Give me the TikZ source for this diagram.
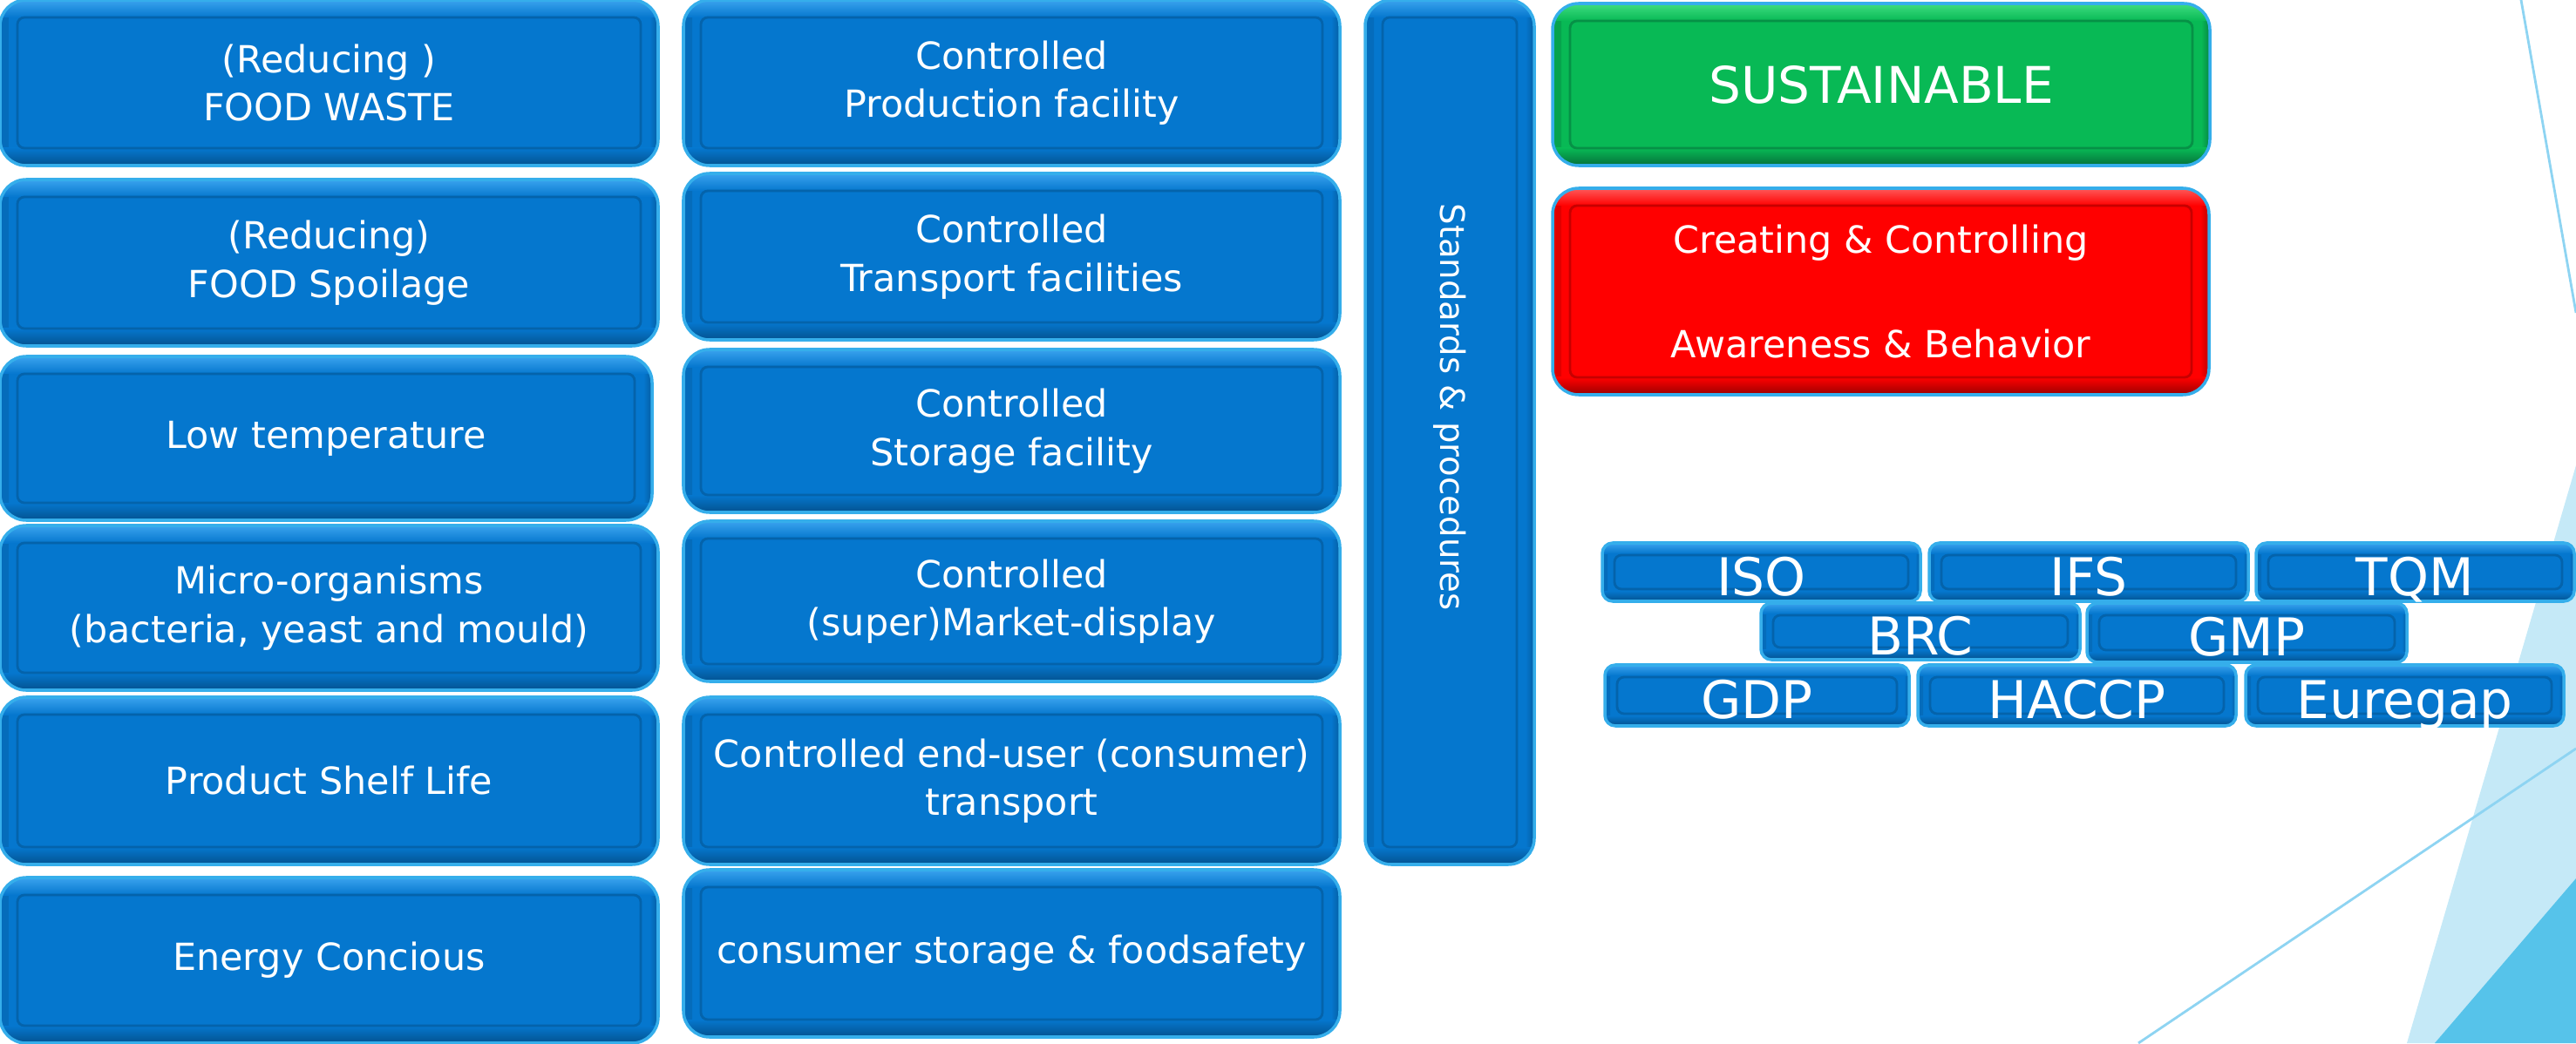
\documentclass[tikz,border=0pt]{standalone}
\usepackage{fontspec}
\setmainfont{DejaVu Sans}

\definecolor{tileblue}{HTML}{0577CE}
\definecolor{tilebluehi}{HTML}{3AA3EE}
\definecolor{tilebluedk}{HTML}{04528F}
\definecolor{tilerim}{HTML}{35AEEB}
\definecolor{tilegreen}{HTML}{08B955}
\definecolor{tilegreenhi}{HTML}{3FDD80}
\definecolor{tilegreendk}{HTML}{05703A}
\definecolor{tilered}{HTML}{FF0000}
\definecolor{tileredhi}{HTML}{FF5A5A}
\definecolor{tilereddk}{HTML}{9A0000}
\definecolor{decoline}{HTML}{8ED4F2}
\definecolor{decolight}{HTML}{C5E9F7}
\definecolor{decodark}{HTML}{56C3EA}

\newcommand{\tiletext}{\fontsize{12.2}{15.8}\selectfont}
\newcommand{\badgetext}{\fontsize{17}{20}\selectfont}
\newcommand{\sustext}{\fontsize{16.5}{20}\selectfont}
\newcommand{\stdtext}{\fontsize{11}{13}\selectfont}

\tikzset{
  tile inset/.store in=\tileinset, tile inset=0.2cm,
  tile band/.store in=\tileband, tile band=0.2cm,
  tile/.style n args={4}{draw=#4, fill=#1, line width=1pt, rounded corners=0.3cm,
    text=white, align=center, inner sep=0pt,
    path picture={
      \fill[sharp corners, left color=#3!30!#1, right color=#1]
        (path picture bounding box.north west) rectangle ([xshift=0.5*\tileband]path picture bounding box.south west);
      \fill[sharp corners, left color=#1, right color=#3!70!#1]
        ([xshift=-0.5*\tileband]path picture bounding box.north east) rectangle (path picture bounding box.south east);
      \fill[sharp corners, top color=#2, bottom color=#1]
        (path picture bounding box.north west) rectangle ([yshift=-\tileband]path picture bounding box.north east);
      \fill[sharp corners, top color=#1, bottom color=#3]
        ([yshift=\tileband]path picture bounding box.south west) rectangle (path picture bounding box.south east);
      \draw[#3!55!#1, line width=0.8pt, rounded corners=0.08cm]
        ([shift={(\tileinset,\tileinset)}]path picture bounding box.south west) rectangle
        ([shift={(-\tileinset,-\tileinset)}]path picture bounding box.north east);
    }},
  bluetile/.style={tile={tileblue}{tilebluehi}{tilebluedk}{tilerim}},
  greentile/.style={tile={tilegreen}{tilegreenhi}{tilegreendk}{tilerim}},
  redtile/.style={tile={tilered}{tileredhi}{tilereddk}{tilerim}},
  redline/.style={text=white, font=\tiletext, inner sep=0pt},
}

\begin{document}
\begin{tikzpicture}
	\useasboundingbox (0,0) rectangle (29.55,11.97);
	\tikzstyle{cell} = [bluetile, minimum width=7.55cm, minimum height=1.9cm, font=\tiletext]
	\tikzstyle{badge} = [bluetile, tile inset=0.14cm, tile band=0.12cm, rounded corners=0.12cm, minimum width=3.65cm, minimum height=0.67cm, font=\badgetext, text height=0.53cm, text depth=0cm]

	% background
	\fill [decolight] (29.55,6.63) -- (27.61,0) -- (29.55,0) -- cycle;
	\fill [decodark] (29.55,1.89) -- (27.93,0) -- (29.55,0) -- cycle;
	\draw [decoline, line width=0.8pt] (28.92,11.97) -- (29.55,8.38);
	\draw [decoline, line width=0.8pt] (24.53,0) -- (29.55,3.38);

	% first column
	\node [cell] (waste) at (3.775,11.02) {(Reducing )\\FOOD WASTE};
	\node [cell, minimum height=1.91cm] (spoil) at (3.775,8.955) {(Reducing)\\FOOD Spoilage};
	\node [cell, minimum width=7.48cm, minimum height=1.88cm] (lowtemp) at (3.74,6.94) {Low temperature};
	\node [cell, minimum height=1.89cm] (micro) at (3.775,4.995) {Micro-organisms\\(bacteria, yeast and mould)};
	\node [cell, minimum height=1.92cm] (shelf) at (3.775,3.01) {Product Shelf Life};
	\node [cell] (energy) at (3.775,0.95) {Energy Concious};

	% second column
	\node [cell, minimum width=7.53cm] (prod) at (11.605,11.02) {Controlled\\Production facility};
	\node [cell, minimum width=7.53cm, minimum height=1.91cm] (trans) at (11.605,9.025) {Controlled\\Transport facilities};
	\node [cell, minimum width=7.53cm, minimum height=1.87cm] (store) at (11.605,7.025) {Controlled\\Storage facility};
	\node [cell, minimum width=7.53cm, minimum height=1.84cm] (market) at (11.605,5.07) {Controlled\\(super)Market-display};
	\node [cell, minimum width=7.53cm, minimum height=1.92cm] (enduser) at (11.605,3.01) {Controlled end-user (consumer)\\transport};
	\node [cell, minimum width=7.53cm, minimum height=1.92cm] (home) at (11.605,1.03) {consumer storage \& foodsafety};

	% standards bar
	\node [bluetile, minimum width=1.94cm, minimum height=9.92cm] (std) at (16.63,7.01) {};
	\node [rotate=-90, text=white, font=\stdtext] (stdlabel) at ([yshift=0.29cm]std.center) {Standards \& procedures};

	% right column
	\node [greentile, minimum width=7.54cm, minimum height=1.86cm, font=\sustext] (sus) at (21.58,11.0) {SUSTAINABLE};
	\node [redtile, minimum width=7.53cm, minimum height=2.37cm,
		label={[redline, yshift=0.56cm]center:Creating \& Controlling},
		label={[redline, yshift=-0.6cm]center:Awareness \& Behavior}] (aware) at (21.575,8.625) {};

	% badges
	\node [badge] (iso) at (20.205,5.405) {ISO};
	\node [badge, minimum width=3.66cm] (ifs) at (23.96,5.405) {IFS};
	\node [badge] (tqm) at (27.705,5.405) {TQM};
	\node [badge, minimum width=3.66cm, minimum height=0.65cm] (brc) at (22.03,4.725) {BRC};
	\node [badge, minimum width=3.67cm, minimum height=0.68cm] (gmp) at (25.775,4.71) {GMP};
	\node [badge, minimum width=3.49cm, minimum height=0.70cm] (gdp) at (20.155,3.99) {GDP};
	\node [badge, minimum height=0.70cm] (haccp) at (23.825,3.99) {HACCP};
	\node [badge, minimum height=0.70cm] (euregap) at (27.585,3.99) {Euregap};
\end{tikzpicture}
\end{document}
